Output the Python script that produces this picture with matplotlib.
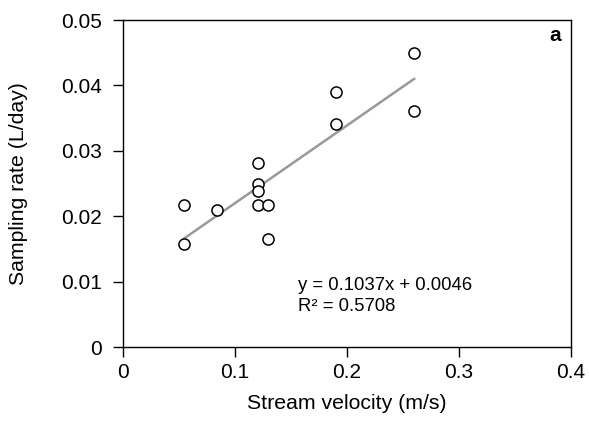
import numpy as np
import matplotlib
matplotlib.use("Agg")
import matplotlib.pyplot as plt

plt.rcParams["font.family"] = ["Liberation Sans", "DejaVu Sans"]

# stream velocity (m/s) and sampling rate (L/day)
velocity = [0.055, 0.055, 0.0845, 0.1205, 0.1205, 0.1205, 0.1205, 0.1295, 0.1295, 0.19, 0.19, 0.26, 0.26]
rate = [0.0217, 0.0157, 0.0209, 0.0281, 0.0249, 0.0239, 0.0217, 0.0217, 0.0165, 0.0390, 0.0341, 0.0450, 0.0361]
x_ticks = [0, 0.1, 0.2, 0.3, 0.4]
x_labels = ["0", "0.1", "0.2", "0.3", "0.4"]
y_ticks = [0, 0.01, 0.02, 0.03, 0.04, 0.05]
y_labels = ["0", "0.01", "0.02", "0.03", "0.04", "0.05"]
eq_text = "y = 0.1037x + 0.0046\nR\u00b2 = 0.5708"

fig = plt.figure(figsize=(5.89, 4.24), dpi=100)
ax = fig.add_axes([0.2083, 0.1816, 0.7611, 0.7712])

# trend line from least squares fit over the data range
slope, icpt = np.polyfit(velocity, rate, 1)
xs = np.array([min(velocity), max(velocity)])
ax.plot(xs, slope * xs + icpt, color="#999999", linewidth=1.8, zorder=2)

ax.plot(velocity, rate, linestyle="none", marker="o", markersize=8,
        markerfacecolor="white", markeredgecolor="black", markeredgewidth=1.1, zorder=3)

ax.set_xlim(0, 0.4)
ax.set_ylim(0, 0.05)
ax.set_xticks(x_ticks)
ax.set_xticklabels(x_labels)
ax.set_yticks(y_ticks)
ax.set_yticklabels(y_labels)
ax.tick_params(direction="out", length=7.5, width=1, labelsize=15, colors="black")
ax.tick_params(axis="x", pad=4)
ax.tick_params(axis="y", pad=7.5)
for s in ax.spines.values():
    s.set_linewidth(1)

ax.set_xlabel("Stream velocity (m/s)", fontsize=15.3, labelpad=8.5)
ax.set_ylabel("Sampling rate (L/day)", fontsize=15.3, labelpad=24)

ax.text(0.392, 0.156, eq_text, transform=ax.transAxes, fontsize=13.3,
        va="center", ha="left", linespacing=1.3)
ax.text(0.964, 0.954, "a", transform=ax.transAxes, fontsize=15,
        fontweight="bold", ha="center", va="center")

fig.savefig("out.png", dpi=100)
